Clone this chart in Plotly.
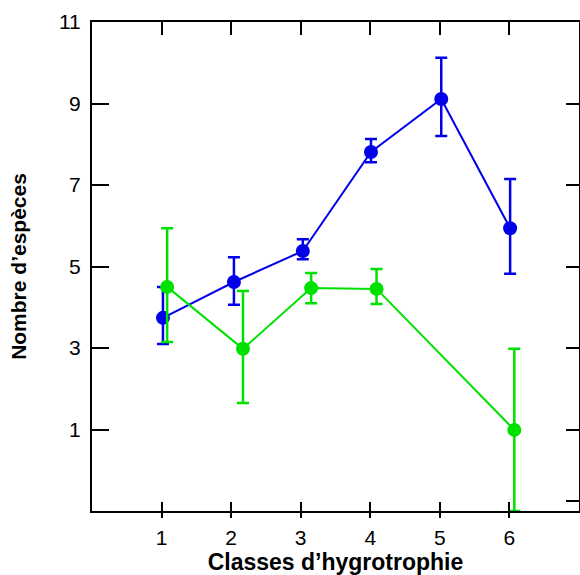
import plotly.graph_objects as go

# Data
blue_x = [1.02, 2.04, 3.03, 4.01, 5.02, 6.01]
blue_y = [3.74, 4.62, 5.38, 7.81, 9.11, 5.94]
blue_up = [0.76, 0.61, 0.29, 0.32, 1.01, 1.21]
blue_dn = [0.64, 0.56, 0.20, 0.25, 0.91, 1.12]

green_x = [1.08, 2.17, 3.15, 4.09, 6.07]
green_y = [4.50, 2.98, 4.47, 4.45, 0.99]
green_up = [1.44, 1.42, 0.37, 0.49, 1.99]
green_dn = [1.35, 1.33, 0.37, 0.37, 1.99]

x_ticks = [1, 2, 3, 4, 5, 6]
y_ticks = [1, 3, 5, 7, 9, 11]
y_right_ticks = [-0.75, 1, 3, 5, 7, 9, 11]

BLUE = "rgb(0,0,235)"
GREEN = "rgb(0,225,0)"
FONT = "Liberation Sans, Arial, sans-serif"

fig = go.Figure()
fig.add_trace(go.Scatter(
    x=blue_x, y=blue_y, mode="lines+markers",
    line=dict(color=BLUE, width=2),
    marker=dict(color=BLUE, size=14),
    error_y=dict(type="data", symmetric=False, array=blue_up, arrayminus=blue_dn,
                 color=BLUE, thickness=2.5, width=6),
    cliponaxis=True, showlegend=False))
fig.add_trace(go.Scatter(
    x=green_x, y=green_y, mode="lines+markers",
    line=dict(color=GREEN, width=2),
    marker=dict(color=GREEN, size=14),
    error_y=dict(type="data", symmetric=False, array=green_up, arrayminus=green_dn,
                 color=GREEN, thickness=2.5, width=6),
    cliponaxis=True, showlegend=False))

# dummy traces to activate overlay axes
fig.add_trace(go.Scatter(x=[None], y=[None], xaxis="x2", yaxis="y2", showlegend=False))
fig.add_trace(go.Scatter(x=[None], y=[None], xaxis="x3", yaxis="y", showlegend=False))

fig.update_layout(
    width=580, height=575,
    margin=dict(l=92, r=1, t=22, b=64),
    paper_bgcolor="white", plot_bgcolor="white",
    font=dict(family=FONT, color="black"),
    xaxis=dict(range=[0, 7], tickvals=x_ticks, ticks="outside", ticklen=5, tickwidth=2,
               tickcolor="black", showline=True, linecolor="black", linewidth=2,
               showgrid=False, zeroline=False, tickfont=dict(size=21),
               ticklabelstandoff=2,
               title=dict(text="<b>Classes d’hygrotrophie</b>", font=dict(size=23), standoff=4)),
    xaxis2=dict(range=[0, 7], overlaying="x", side="top", anchor="y2", tickvals=x_ticks,
                ticks="inside", ticklen=13, tickwidth=2, tickcolor="black",
                showticklabels=False, showline=True, linecolor="black", linewidth=2,
                showgrid=False, zeroline=False),
    xaxis3=dict(range=[0, 7], overlaying="x", side="bottom", anchor="y", tickvals=x_ticks,
                ticks="inside", ticklen=9, tickwidth=2, tickcolor="black",
                showticklabels=False, showline=False, showgrid=False, zeroline=False),
    yaxis=dict(range=[-1, 11], tickvals=y_ticks, ticks="inside", ticklen=17, tickwidth=2,
               tickcolor="black", showline=True, linecolor="black", linewidth=2,
               showgrid=False, zeroline=False, tickfont=dict(size=21),
               ticklabelstandoff=5,
               title=dict(text="<b>Nombre d’espèces</b>", font=dict(size=21), standoff=27)),
    yaxis2=dict(range=[-1, 11], overlaying="y", side="right", anchor="x2",
                tickvals=y_right_ticks, ticks="inside", ticklen=13, tickwidth=2,
                tickcolor="black", showticklabels=False, showline=True, linecolor="black",
                linewidth=2, showgrid=False, zeroline=False),
)

fig.write_html("out.html")
